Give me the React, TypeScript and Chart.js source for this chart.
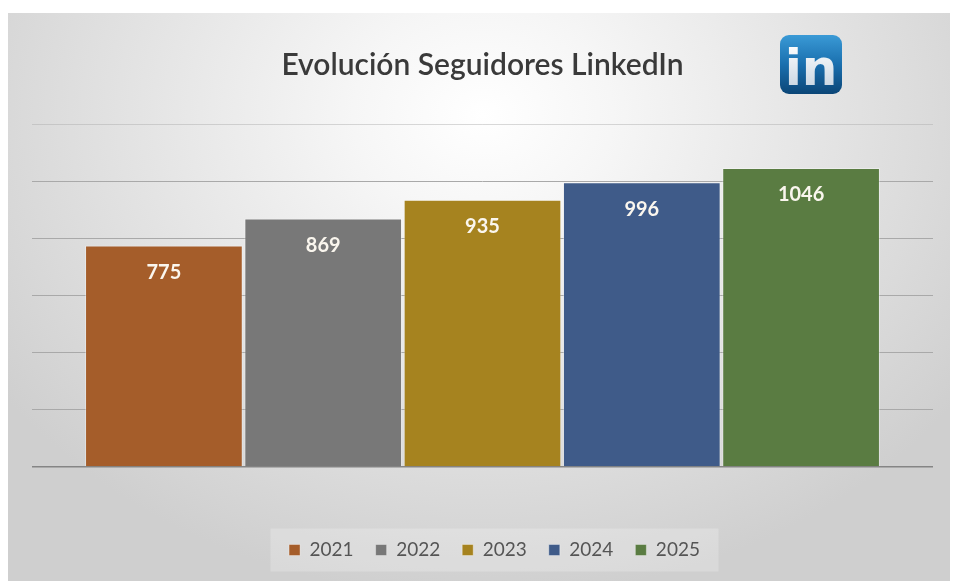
import React, { useEffect, useRef } from "react";
import { Chart, registerables } from "chart.js";

Chart.register(...registerables);

const categories = ["Seguidores"];
const years = ["2021", "2022", "2023", "2024", "2025"];
const followers = [775, 869, 935, 996, 1046];
const barColors = ["#A55D2A", "#787878", "#A6831F", "#3F5B89", "#5A7C42"];
const yTicks = { min: 0, max: 1200, step: 200 };
const title = "Evolución Seguidores LinkedIn";

const labelsPlugin = {
  id: "valueLabels",
  afterDatasetsDraw(chart: any) {
    const ctx = chart.ctx;
    ctx.save();
    ctx.font = "bold 20px Lato";
    ctx.fillStyle = "#faf6ee";
    ctx.textAlign = "center";
    ctx.textBaseline = "middle";
    chart.data.datasets.forEach((ds: any, i: number) => {
      const meta = chart.getDatasetMeta(i);
      meta.data.forEach((bar: any, j: number) => {
        ctx.fillText(String(ds.data[j]), bar.x, bar.y + 27);
      });
    });
    ctx.restore();
  },
};

const decorPlugin = {
  id: "decor",
  afterLayout(chart: any) {
    const lg = chart.legend;
    if (lg) {
      lg.left += 12;
      lg.right += 12;
    }
  },
  beforeDraw(chart: any) {
    const ctx = chart.ctx;
    const lg = chart.legend;
    if (lg) {
      const cx = (lg.left + lg.right) / 2;
      const cy = lg.top + 22 + 9.5;
      ctx.save();
      ctx.fillStyle = "rgba(255,255,255,0.22)";
      ctx.fillRect(cx - 224, cy - 21.5, 448, 43);
      ctx.restore();
    }
  },
  afterDraw(chart: any) {
    const ctx = chart.ctx;
    const x = 772, y = 22, w = 62, h = 59, r = 9;
    ctx.save();
    const g = ctx.createLinearGradient(0, y, 0, y + h);
    g.addColorStop(0, "#3a9ad6");
    g.addColorStop(0.5, "#1a6fae");
    g.addColorStop(1, "#0b4677");
    ctx.fillStyle = g;
    ctx.beginPath();
    ctx.roundRect(x, y, w, h, r);
    ctx.fill();
    const tg = ctx.createLinearGradient(0, y + 8, 0, y + h - 6);
    tg.addColorStop(0, "#ffffff");
    tg.addColorStop(1, "#c9d6e2");
    ctx.fillStyle = tg;
    ctx.font = "bold 50px 'DejaVu Sans'";
    ctx.textAlign = "center";
    ctx.textBaseline = "alphabetic";
    ctx.fillText("in", x + w / 2, y + h - 9);
    ctx.restore();
  },
};

export default function App() {
  const ref = useRef<HTMLCanvasElement>(null);
  useEffect(() => {
    if (!ref.current) return;
    const chart = new Chart(ref.current, {
      type: "bar",
      data: {
        labels: categories,
        datasets: years.map((yr, i) => ({
          label: yr,
          data: [followers[i]],
          backgroundColor: barColors[i],
          borderColor: "rgba(255,255,255,0.35)",
          borderWidth: 1,
          barPercentage: 0.99,
          categoryPercentage: 0.884,
        })),
      },
      options: {
        animation: false,
        responsive: true,
        maintainAspectRatio: false,
        layout: { padding: { left: 24, right: 25, top: 0, bottom: 11.5 } },
        plugins: {
          title: {
            display: true,
            text: title,
            color: "#3a3a3a",
            font: { family: "Lato", size: 30, weight: "600", lineHeight: 1.2 },
            padding: { top: 34, bottom: 41 },
          },
          legend: {
            position: "bottom",
            labels: {
              boxWidth: 11,
              boxHeight: 11,
              padding: 22,
              color: "#555555",
              font: { family: "Lato", size: 19 },
            },
          },
          tooltip: { enabled: false },
        },
        scales: {
          x: {
            display: true,
            grid: { display: false, drawTicks: false },
            border: { display: false },
            ticks: { display: false },
            afterFit: (s: any) => {
              s.height = 51.5;
            },
          },
          y: {
            min: yTicks.min,
            max: yTicks.max,
            ticks: { display: false, stepSize: yTicks.step },
            border: { display: false },
            grid: {
              drawTicks: false,
              color: (c: any) =>
                c.tick && c.tick.value === 0
                  ? "#858585"
                  : c.tick && c.tick.value === yTicks.max
                  ? "rgba(170,170,170,0.45)"
                  : "#a9a9a9",
              lineWidth: (c: any) => (c.tick && c.tick.value === 0 ? 1.5 : 1),
            },
            afterFit: (s: any) => {
              s.width = 0;
            },
          },
        },
      },
      plugins: [labelsPlugin, decorPlugin],
    });
    return () => chart.destroy();
  }, []);
  return (
    <div
      style={{
        marginTop: 5,
        width: 950,
        height: 568,
        background:
          "radial-gradient(ellipse 62% 85% at 50% 18%, #ffffff 0%, #f6f6f6 22%, #e3e3e3 60%, #cfcfcf 100%)",
      }}
    >
      <canvas ref={ref} style={{ display: "block", width: "100%", height: "100%" }} />
    </div>
  );
}
